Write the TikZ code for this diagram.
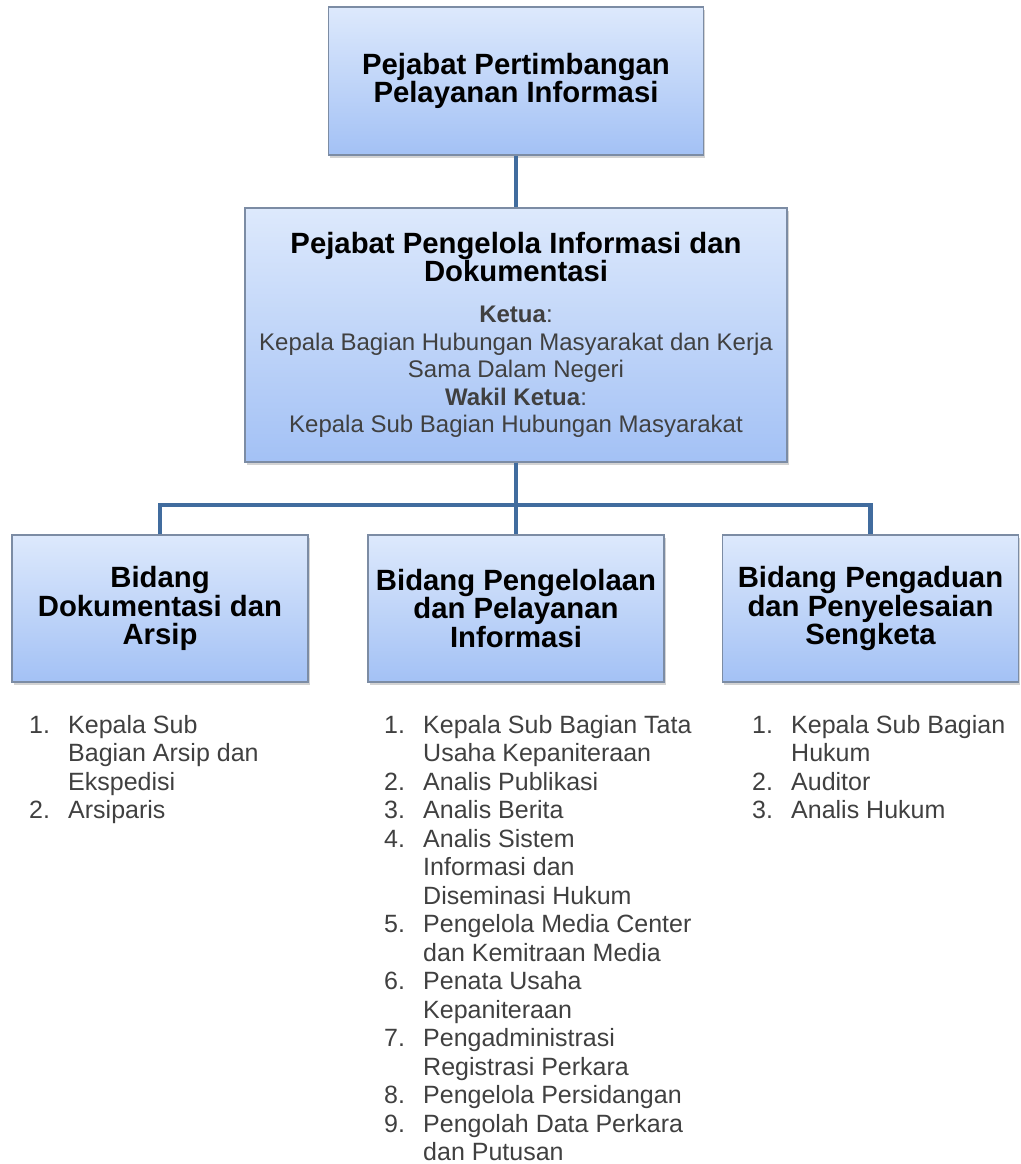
\documentclass[tikz,border=0pt]{standalone}
\usepackage{fontspec}
\setmainfont{Liberation Sans}
\usepackage{tikz}
\usepackage{xcolor}
\usetikzlibrary{shadows}

\definecolor{boxtop}{RGB}{221,233,252}
\definecolor{boxbottom}{RGB}{163,193,245}
\definecolor{boxline}{RGB}{124,140,164}
\definecolor{linkblue}{RGB}{65,108,158}
\definecolor{textgray}{RGB}{64,64,64}

\newcommand\titlefont{\fontsize{29.3}{28.5}\selectfont\bfseries}
\newcommand\subfont{\fontsize{24}{27.5}\selectfont\mdseries}
\newcommand\listfont{\fontsize{25}{28.5}\selectfont}
\newcommand\listnum[1]{\makebox[39pt][l]{#1}}
\newcommand\listgap{\makebox[39pt]{}}

\begin{document}
\begin{tikzpicture}[x=1pt,y=1pt]
	\tikzstyle{orgbox}=[draw=boxline, line width=1.2pt, top color=boxtop, bottom color=boxbottom, drop shadow={shadow xshift=1.5pt, shadow yshift=-3pt, opacity=0.35}, align=center, inner sep=0pt, font=\titlefont]
	\tikzstyle{link}=[draw=linkblue, line width=4.5pt]
	\tikzstyle{duties}=[anchor=north west, align=left, inner sep=0pt, font=\listfont, text=textgray]
	\useasboundingbox (0,0) rectangle (1020,-1164);
	% boxes
	\node[orgbox, minimum width=375pt, minimum height=148pt] (pertimbangan) at (516,-81) {Pejabat Pertimbangan\\Pelayanan Informasi};
	\node[orgbox, minimum width=542pt, minimum height=254pt, text width=536pt] (pengelola) at (516,-335) {\centering\spaceskip=0pt\xspaceskip=0pt\hyphenpenalty=10000 Pejabat Pengelola Informasi dan\\Dokumentasi\par\vspace{13.5pt}{\subfont\color{textgray}\textbf{Ketua}:\\Kepala Bagian Hubungan Masyarakat dan Kerja\\Sama Dalam Negeri\\\textbf{Wakil Ketua}:\\Kepala Sub Bagian Hubungan Masyarakat\par}};
	\node[orgbox, minimum width=296pt, minimum height=147pt] (dokumentasi) at (160,-608.5) {Bidang\\Dokumentasi dan\\Arsip};
	\node[orgbox, minimum width=296pt, minimum height=147pt] (pelayanan) at (516,-608.5) {Bidang Pengelolaan\\dan Pelayanan\\Informasi};
	\node[orgbox, minimum width=296pt, minimum height=147pt] (sengketa) at (870.5,-608.5) {Bidang Pengaduan\\dan Penyelesaian\\Sengketa};
	% links
	\coordinate (bus) at (516,-505);
	\draw[link] (pertimbangan.south) -- (pengelola.north);
	\draw[link] (pengelola.south) -- (pelayanan.north);
	\draw[link] (dokumentasi.north) |- (bus) -| (sengketa.north);
	% lists
	\node[duties] (listdok) at (29,-715) {\listnum{1.}Kepala Sub\\\listgap Bagian Arsip dan\\\listgap Ekspedisi\\\listnum{2.}Arsiparis};
	\node[duties] (listinfo) at (384,-715) {\listnum{1.}Kepala Sub Bagian Tata\\\listgap Usaha Kepaniteraan\\\listnum{2.}Analis Publikasi\\\listnum{3.}Analis Berita\\\listnum{4.}Analis Sistem\\\listgap Informasi dan\\\listgap Diseminasi Hukum\\\listnum{5.}Pengelola Media Center\\\listgap dan Kemitraan Media\\\listnum{6.}Penata Usaha\\\listgap Kepaniteraan\\\listnum{7.}Pengadministrasi\\\listgap Registrasi Perkara\\\listnum{8.}Pengelola Persidangan\\\listnum{9.}Pengolah Data Perkara\\\listgap dan Putusan};
	\node[duties] (listsengketa) at (752,-715) {\listnum{1.}Kepala Sub Bagian\\\listgap Hukum\\\listnum{2.}Auditor\\\listnum{3.}Analis Hukum};
\end{tikzpicture}
\end{document}
